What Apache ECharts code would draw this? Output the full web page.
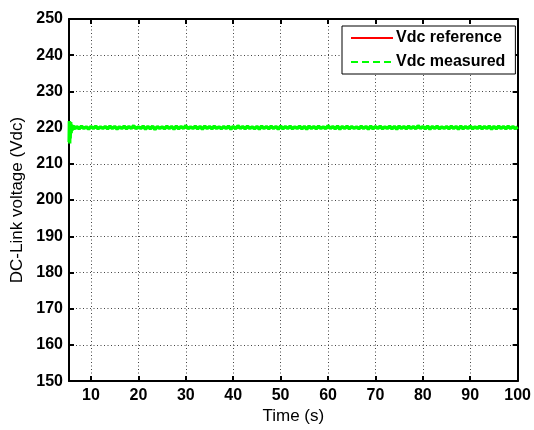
<!DOCTYPE html>
<html>
<head>
<meta charset="utf-8">
<script src="https://cdn.jsdelivr.net/npm/echarts@6/dist/echarts.min.js"></script>
<style>
html,body{margin:0;padding:0;background:#fff;}
#c{width:534px;height:430px;}
</style>
</head>
<body>
<div id="c"></div>
<script>
// ---- data ----
var xTicks = [10, 20, 30, 40, 50, 60, 70, 80, 90, 100];
var yTicks = [150, 160, 170, 180, 190, 200, 210, 220, 230, 240, 250];

var refTimes = [5.4, 100];
var refValues = [220, 220];

var measTimes = [
  5.4, 5.45, 5.5, 5.55, 5.6, 5.7, 5.8, 5.9, 6.0, 6.2, 6.4, 6.6, 6.8,
  7.0, 7.5, 8.0, 8.5, 9.0, 9.5, 10.0, 10.5, 11.0, 11.5,
  12.0, 12.5, 13.0, 13.5, 14.0, 14.5, 15.0, 15.5, 16.0, 16.5,
  17.0, 17.5, 18.0, 18.5, 19.0, 19.5, 20.0, 20.5, 21.0, 21.5,
  22.0, 22.5, 23.0, 23.5, 24.0, 24.5, 25.0, 25.5, 26.0, 26.5,
  27.0, 27.5, 28.0, 28.5, 29.0, 29.5, 30.0, 30.5, 31.0, 31.5,
  32.0, 32.5, 33.0, 33.5, 34.0, 34.5, 35.0, 35.5, 36.0, 36.5,
  37.0, 37.5, 38.0, 38.5, 39.0, 39.5, 40.0, 40.5, 41.0, 41.5,
  42.0, 42.5, 43.0, 43.5, 44.0, 44.5, 45.0, 45.5, 46.0, 46.5,
  47.0, 47.5, 48.0, 48.5, 49.0, 49.5, 50.0, 50.5, 51.0, 51.5,
  52.0, 52.5, 53.0, 53.5, 54.0, 54.5, 55.0, 55.5, 56.0, 56.5,
  57.0, 57.5, 58.0, 58.5, 59.0, 59.5, 60.0, 60.5, 61.0, 61.5,
  62.0, 62.5, 63.0, 63.5, 64.0, 64.5, 65.0, 65.5, 66.0, 66.5,
  67.0, 67.5, 68.0, 68.5, 69.0, 69.5, 70.0, 70.5, 71.0, 71.5,
  72.0, 72.5, 73.0, 73.5, 74.0, 74.5, 75.0, 75.5, 76.0, 76.5,
  77.0, 77.5, 78.0, 78.5, 79.0, 79.5, 80.0, 80.5, 81.0, 81.5,
  82.0, 82.5, 83.0, 83.5, 84.0, 84.5, 85.0, 85.5, 86.0, 86.5,
  87.0, 87.5, 88.0, 88.5, 89.0, 89.5, 90.0, 90.5, 91.0, 91.5,
  92.0, 92.5, 93.0, 93.5, 94.0, 94.5, 95.0, 95.5, 96.0, 96.5,
  97.0, 97.5, 98.0, 98.5, 99.0, 99.5, 100.0
];
var measValues = [
  216.0, 221.8, 215.6, 221.2, 217.0, 221.5, 218.5, 220.8, 219.2, 220.6, 219.5, 220.4, 219.7,
  220.3, 219.7, 220.4, 219.8, 220.2, 219.6, 220.3, 219.8, 220.4, 219.7,
  220.2, 219.8, 220.3, 219.7, 220.4, 219.8, 220.3, 219.6, 220.2, 219.8,
  220.4, 219.7, 220.3, 219.8, 220.5, 219.7, 220.2, 219.8, 220.4, 219.6,
  220.3, 219.7, 220.4, 219.5, 220.3, 219.8, 220.2, 219.7, 220.4, 219.8,
  220.3, 219.6, 220.4, 219.7, 220.3, 219.8, 220.5, 219.7, 220.2, 219.8,
  220.4, 219.7, 220.3, 219.6, 220.4, 219.8, 220.3, 219.7, 220.4, 219.8,
  220.2, 219.7, 220.3, 219.8, 220.4, 219.6, 220.3, 219.7, 220.5, 219.8,
  220.3, 219.7, 220.4, 219.8, 220.2, 219.7, 220.3, 219.6, 220.4, 219.8,
  220.3, 219.7, 220.4, 219.8, 220.3, 219.6, 220.4, 219.7, 220.3, 219.8,
  220.4, 219.7, 220.2, 219.8, 220.4, 219.7, 220.3, 219.6, 220.4, 219.8,
  220.3, 219.7, 220.4, 219.8, 220.2, 219.7, 220.5, 219.8, 220.3, 219.7,
  220.4, 219.6, 220.3, 219.8, 220.4, 219.7, 220.3, 219.8, 220.2, 219.7,
  220.4, 219.8, 220.3, 219.6, 220.4, 219.7, 220.3, 219.8, 220.4, 219.7,
  220.2, 219.8, 220.4, 219.7, 220.3, 219.6, 220.4, 219.8, 220.3, 219.7,
  220.4, 219.8, 220.3, 219.7, 220.5, 219.8, 220.3, 219.7, 220.4, 219.6,
  220.3, 219.8, 220.4, 219.7, 220.2, 219.8, 220.3, 219.7, 220.4, 219.8,
  220.3, 219.6, 220.4, 219.7, 220.3, 219.8, 220.4, 219.7, 220.2, 219.8,
  220.4, 219.7, 220.3, 219.8, 220.4, 219.6, 220.3, 219.7, 220.4, 219.8,
  220.3, 219.7, 220.4, 219.8, 220.3, 219.7, 220.2
];

var seriesNames = ['Vdc reference', 'Vdc measured'];
var xTitle = 'Time (s)';
var yTitle = 'DC-Link voltage (Vdc)';

// ---- chart ----
var FONT = "'Liberation Sans', Arial, Helvetica, sans-serif";
function pairs(t, v) { return t.map(function (x, i) { return [x, v[i]]; }); }

var chart = echarts.init(document.getElementById('c'), null, { renderer: 'canvas' });
var gridLine = { show: true, lineStyle: { color: '#444', width: 1, type: [1, 2.5] } };

chart.setOption({
  animation: false,
  backgroundColor: '#fff',
  grid: { left: 69, right: 14, top: 19, bottom: 45, containLabel: false },
  legend: {
    data: seriesNames,
    orient: 'vertical',
    left: 342, top: 26,
    backgroundColor: '#fff',
    borderColor: '#000', borderWidth: 1, borderRadius: 0,
    padding: [4, 10, 4, 8],
    itemWidth: 42, itemHeight: 12, itemGap: 8,
    itemStyle: { opacity: 0, borderWidth: 0 },
    textStyle: { fontFamily: FONT, fontSize: 16, fontWeight: 'bold', color: '#000', padding: [0, 0, 0, -2] }
  },
  xAxis: [{
    type: 'value', min: 5.36, max: 100, position: 'bottom',
    name: xTitle, nameLocation: 'middle', nameGap: 19,
    nameTextStyle: { fontFamily: FONT, fontSize: 17, color: '#000' },
    axisLine: { show: true, onZero: false, lineStyle: { color: '#000', width: 2 } },
    axisTick: { show: true, inside: true, length: 5, customValues: xTicks, lineStyle: { color: '#000', width: 2 } },
    axisLabel: { customValues: xTicks, fontFamily: FONT, fontSize: 16, fontWeight: 'bold', color: '#000', margin: 6 },
    splitLine: gridLine
  }, {
    type: 'value', min: 5.36, max: 100, position: 'top',
    axisLine: { show: true, onZero: false, lineStyle: { color: '#000', width: 2 } },
    axisTick: { show: true, inside: true, length: 5, customValues: xTicks, lineStyle: { color: '#000', width: 2 } },
    axisLabel: { show: false },
    splitLine: { show: false }
  }],
  yAxis: [{
    type: 'value', min: 150, max: 250, interval: 10, position: 'left',
    name: yTitle, nameLocation: 'middle', nameGap: 41,
    nameTextStyle: { fontFamily: FONT, fontSize: 17, color: '#000' },
    axisLine: { show: true, onZero: false, lineStyle: { color: '#000', width: 2 } },
    axisTick: { show: true, inside: true, length: 5, lineStyle: { color: '#000', width: 2 } },
    axisLabel: { fontFamily: FONT, fontSize: 16, fontWeight: 'bold', color: '#000', margin: 6 },
    splitLine: gridLine
  }, {
    type: 'value', min: 150, max: 250, interval: 10, position: 'right',
    axisLine: { show: true, onZero: false, lineStyle: { color: '#000', width: 2 } },
    axisTick: { show: true, inside: true, length: 5, lineStyle: { color: '#000', width: 2 } },
    axisLabel: { show: false },
    splitLine: { show: false }
  }],
  series: [{
    name: seriesNames[0], type: 'line', symbol: 'none',
    data: pairs(refTimes, refValues),
    lineStyle: { color: '#ff0000', width: 2 }, itemStyle: { color: '#ff0000' }, z: 2
  }, {
    name: 'measured-trace', type: 'line', symbol: 'none',
    data: pairs(measTimes, measValues),
    lineStyle: { color: '#00ff00', width: 3.5 }, itemStyle: { color: '#00ff00' }, z: 3
  }, {
    name: seriesNames[1], type: 'line', symbol: 'none', data: [],
    lineStyle: { color: '#00ff00', width: 2, type: [7, 4] }, itemStyle: { color: '#00ff00' }
  }]
});
</script>
</body>
</html>
